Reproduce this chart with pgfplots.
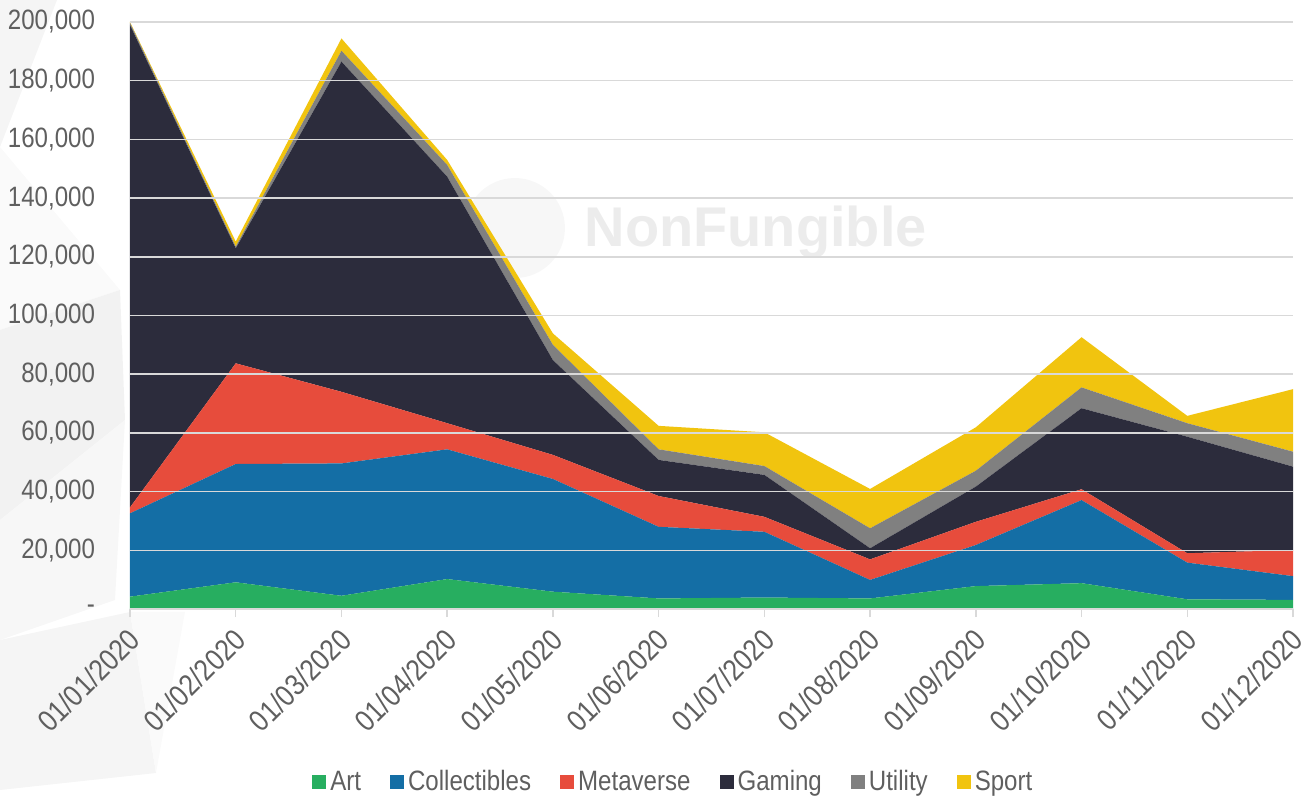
\documentclass[border=0pt]{standalone}
\usepackage{fontspec}
\setmainfont{Liberation Sans}[FakeStretch=0.86]
\newfontfamily\wmfont{Liberation Sans}
\usepackage{pgfplots}
\pgfplotsset{compat=1.18}
\definecolor{ArtC}{RGB}{39,174,96}
\definecolor{CollC}{RGB}{20,110,165}
\definecolor{MetaC}{RGB}{231,76,60}
\definecolor{GameC}{RGB}{44,44,60}
\definecolor{UtilC}{RGB}{128,128,128}
\definecolor{SportC}{RGB}{241,196,15}
\definecolor{GridC}{RGB}{217,217,217}
\definecolor{TextC}{RGB}{95,95,95}

\pgfplotstableread{
x   art    coll   meta   game    util  sport
0   4200   28400  2000   164400  700   300
1   9100   40300  34300  39200   600   1700
2   4500   45100  24400  112500  3700  4200
3   10200  44200  8900   84000   4000  1700
4   5900   38400  8200   32300   5200  3900
5   3600   24400  10500  12300   3600  8000
6   3900   22400  5100   14300   3000  11500
7   3600   6300   7000   3800    6800  13400
8   7800   14000  7900   12000   5400  14800
9   8800   28300  3700   27600   7100  17100
10  3300   12500  3200   39700   4600  2500
11  3100   8100   8900   28400   5100  21300
}\nftdata

\begin{document}
\begin{tikzpicture}
\path[use as bounding box] (0,0) rectangle (653.5pt,399pt);
% faint background shapes on the left (picture pixels, top-down)
\begin{scope}[x=0.5pt,y=-0.5pt,yshift=399pt]
\fill[black!4] (0,0) -- (57,0) -- (0,147) -- cycle;
\fill[black!2] (0,147) -- (120,290) -- (0,330) -- cycle;
\fill[black!5] (0,330) -- (120,290) -- (125,420) -- (0,520) -- cycle;
\fill[black!3] (0,520) -- (125,420) -- (115,600) -- (0,640) -- cycle;
\fill[black!4] (0,640) -- (130,612) -- (156,773) -- (0,790) -- cycle;
\fill[black!2] (130,612) -- (185,612) -- (156,773) -- cycle;
\end{scope}
\begin{axis}[
    at={(65pt,94.5pt)}, anchor=south west,
    scale only axis,
    width=581.5pt, height=293.5pt,
    xmin=0, xmax=11, ymin=0, ymax=200000,
    scaled y ticks=false,
    stack plots=y,
    area style,
    axis x line*=bottom, axis y line*=left,
    x axis line style={draw=GridC, line width=0.75pt, -},
    y axis line style={draw=none},
    xtick={0,...,11},
    xticklabels={01/01/2020,01/02/2020,01/03/2020,01/04/2020,01/05/2020,01/06/2020,01/07/2020,01/08/2020,01/09/2020,01/10/2020,01/11/2020,01/12/2020},
    ytick={0,20000,40000,60000,80000,100000,120000,140000,160000,180000,200000},
    yticklabels={-,{20,000},{40,000},{60,000},{80,000},{100,000},{120,000},{140,000},{160,000},{180,000},{200,000}},
    tick align=outside,
    major tick length=4pt,
    xtick style={draw=GridC, line width=0.75pt},
    ytick style={draw=none},
    ymajorgrids,
    grid style={draw=GridC, line width=0.75pt},
    xticklabel style={font=\fontsize{15}{17}\selectfont, text=TextC, rotate=45, anchor=north east, inner sep=0.5pt, xshift=-4pt, yshift=-1.5pt},
    yticklabel style={font=\fontsize{14}{16}\selectfont, text=TextC, anchor=east, xshift=-10pt},
    legend style={at={(0.468,-0.295)}, anchor=center, draw=none, fill=none,
        legend columns=-1, font=\fontsize{14}{16}\selectfont, text=TextC,
        /tikz/every even column/.append style={column sep=12.5pt}},
    legend image code/.code={\fill[#1] (1pt,-3.5pt) rectangle (8pt,3.5pt);},
]
\addplot[fill=ArtC, draw=none] table[x=x, y=art] {\nftdata} \closedcycle;
\addplot[fill=CollC, draw=none] table[x=x, y=coll] {\nftdata} \closedcycle;
\addplot[fill=MetaC, draw=none] table[x=x, y=meta] {\nftdata} \closedcycle;
\addplot[fill=GameC, draw=none] table[x=x, y=game] {\nftdata} \closedcycle;
\addplot[fill=UtilC, draw=none] table[x=x, y=util] {\nftdata} \closedcycle;
\addplot[fill=SportC, draw=none] table[x=x, y=sport] {\nftdata} \closedcycle;
\legend{Art,Collectibles,Metaverse,Gaming,Utility,Sport}
\fill[gray!50, opacity=0.12] (rel axis cs:0.331,0.649) circle[radius=25pt];
\node[font=\wmfont\bfseries\fontsize{28}{30}\selectfont, text=gray, opacity=0.15, anchor=base]
    at (rel axis cs:0.538,0.617) {NonFungible};
\end{axis}
\end{tikzpicture}
\end{document}
